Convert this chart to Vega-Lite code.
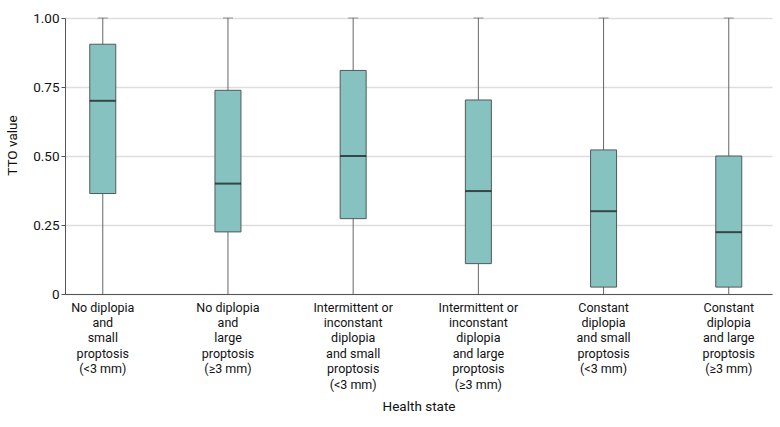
{
  "$schema": "https://vega.github.io/schema/vega-lite/v6.json",
  "width": 707,
  "height": 276,
  "autosize": {"type": "none"},
  "padding": {"left": 65, "top": 18, "right": 8, "bottom": 133},
  "background": "white",
  "config": {
    "font": "Roboto",
    "view": {"stroke": null},
    "axis": {"labelColor": "#111", "titleColor": "#111", "labelFont": "Roboto", "titleFont": "Roboto", "titleFontWeight": "normal"}
  },
  "data": {
    "values": [
      {"state": "No diplopia|and|small|proptosis|(<3 mm)", "min": 0, "q1": 0.364, "median": 0.70, "q3": 0.905, "max": 1},
      {"state": "No diplopia|and|large|proptosis|(≥3 mm)", "min": 0, "q1": 0.225, "median": 0.40, "q3": 0.738, "max": 1},
      {"state": "Intermittent or|inconstant|diplopia|and small|proptosis|(<3 mm)", "min": 0, "q1": 0.273, "median": 0.50, "q3": 0.81, "max": 1},
      {"state": "Intermittent or|inconstant|diplopia|and large|proptosis|(≥3 mm)", "min": 0, "q1": 0.11, "median": 0.373, "q3": 0.703, "max": 1},
      {"state": "Constant|diplopia|and small|proptosis|(<3 mm)", "min": 0, "q1": 0.025, "median": 0.30, "q3": 0.522, "max": 1},
      {"state": "Constant|diplopia|and large|proptosis|(≥3 mm)", "min": 0, "q1": 0.025, "median": 0.224, "q3": 0.50, "max": 1}
    ]
  },
  "encoding": {
    "x": {
      "field": "state",
      "type": "nominal",
      "sort": null,
      "scale": {"paddingInner": 0.79, "paddingOuter": 0.2185, "align": 0.45},
      "axis": {
        "title": "Health state",
        "labelExpr": "split(datum.label, '|')",
        "labelAngle": 0,
        "labelFontSize": 12.5,
        "labelLineHeight": 15.4,
        "labelPadding": 7,
        "labelLimit": 200,
        "ticks": false,
        "domain": true,
        "domainColor": "#555",
        "domainWidth": 1,
        "titleFontSize": 13.5,
        "titlePadding": 9,
        "grid": false
      }
    }
  },
  "layer": [
    {
      "mark": {"type": "rule", "color": "#666", "strokeWidth": 1},
      "encoding": {
        "y": {
          "field": "min",
          "type": "quantitative",
          "scale": {"domain": [0, 1], "nice": false},
          "axis": {
            "title": "TTO value",
            "values": [0, 0.25, 0.5, 0.75, 1],
            "labelExpr": "datum.value == 0 ? '0' : format(datum.value, '.2f')",
            "labelFontSize": 13.5,
            "titleFontSize": 13.5,
            "titleX": -46,
            "titleY": 127,
            "tickSize": 4,
            "tickColor": "#555",
            "labelPadding": 2,
            "domainColor": "#555",
            "grid": true,
            "gridColor": "#dddddd",
            "gridWidth": 1.5
          }
        },
        "y2": {"field": "max"}
      }
    },
    {
      "mark": {"type": "bar", "width": 26, "fill": "#86c3c0", "stroke": "#4f5a5a", "strokeWidth": 1},
      "encoding": {
        "y": {"field": "q1", "type": "quantitative"},
        "y2": {"field": "q3"}
      }
    },
    {
      "mark": {"type": "tick", "color": "#111", "thickness": 2, "size": 26},
      "encoding": {
        "y": {"field": "median", "type": "quantitative"}
      }
    },
    {
      "mark": {"type": "tick", "color": "#666", "thickness": 1, "size": 10},
      "encoding": {
        "y": {"field": "max", "type": "quantitative"}
      }
    }
  ]
}
